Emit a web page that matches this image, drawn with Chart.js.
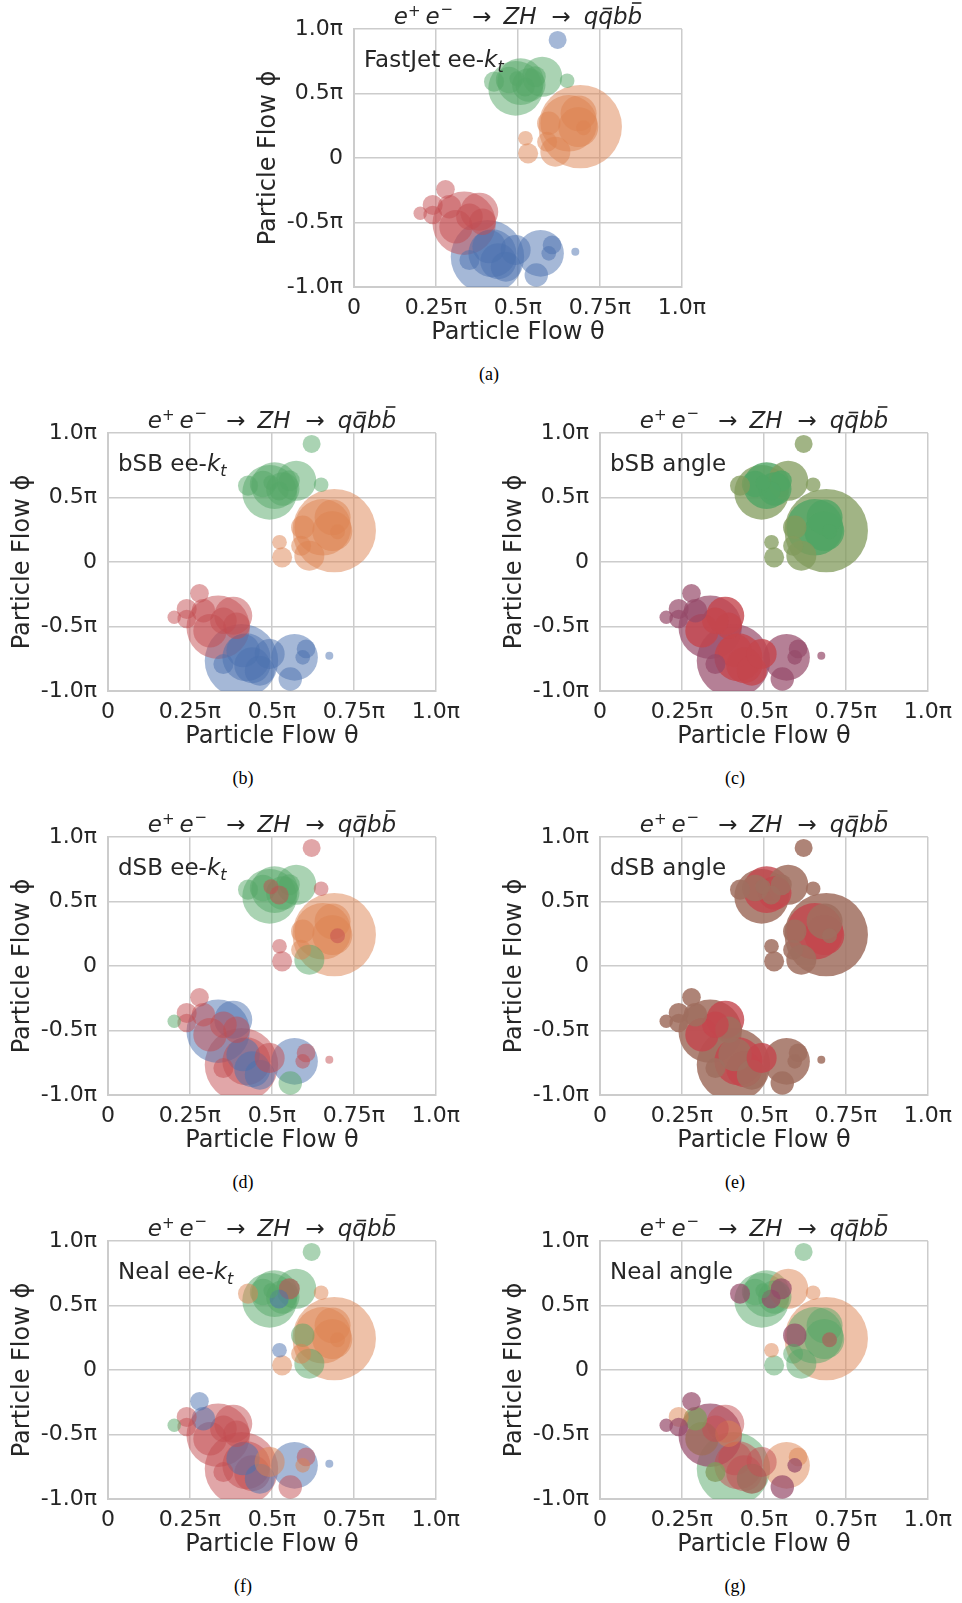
<!DOCTYPE html>
<html>
<head>
<meta charset="utf-8">
<script src="https://cdn.jsdelivr.net/npm/chart.js@4.4.1/dist/chart.umd.min.js"></script>
<style>
body { margin: 0; background: #fff; width: 962px; height: 1603px; position: relative; overflow: hidden; }
canvas { position: absolute; }
.cap { position: absolute; font-family: "Liberation Serif", "Times New Roman", serif; font-size: 18px; color: #000; transform: translate(-50%, -50%); }
</style>
</head>
<body>
<script>
// particle flow candidates: theta and phi in units of pi, energy in GeV
var theta = [0.621, 0.650, 0.427, 0.493, 0.574, 0.508, 0.533, 0.473, 0.497, 0.522, 0.553,
             0.690, 0.655, 0.684, 0.594, 0.523, 0.531, 0.614, 0.589, 0.685, 0.700,
             0.279, 0.202, 0.240, 0.240, 0.336, 0.291, 0.311, 0.382, 0.392, 0.352,
             0.407, 0.422, 0.463, 0.352, 0.493, 0.569, 0.604, 0.594, 0.556, 0.675, 0.412, 0.440];
var phi = [0.915, 0.599, 0.592, 0.540, 0.630, 0.592, 0.566, 0.605, 0.615, 0.550, 0.630,
           0.243, 0.269, 0.240, 0.269, 0.153, 0.036, 0.049, 0.126, 0.346, 0.235,
           -0.243, -0.429, -0.364, -0.442, -0.506, -0.378, -0.533, -0.416, -0.494, -0.455,
           -0.765, -0.739, -0.843, -0.791, -0.713, -0.739, -0.674, -0.739, -0.907, -0.726, -0.687, -0.800];
var energy = [6.6, 4.4, 8.2, 61.0, 32.7, 44.3, 22.8, 14.4, 4.6, 7.4, 9.0,
              142.0, 65.4, 32.7, 11.2, 4.4, 8.2, 18.4, 8.2, 26.4, 4.6,
              7.1, 3.7, 8.2, 7.1, 82.0, 11.2, 22.8, 29.5, 14.4, 14.4,
              110.0, 47.0, 18.4, 8.2, 18.4, 44.3, 7.1, 4.4, 11.2, 1.3, 22.8, 26.4];

// jet each particle ends up in, per algorithm
// B, O, G, R: jets; g, r: jets with full weight; Y, M, N: shared between jets; X: dropped
var jetsFastJet   = 'BGGGGGGGGGGOOOOOOOOOORRRRRRRRRRBBBBBBBBBBBB'.split('');
var jetsBsbKt     = 'GGGGGGGGGGGOOOOOOOOOORRRRRRRRRRBBBBBBBBBBBB'.split('');
var jetsBsbAngle  = 'YYYYYggggggYggYYYYYggMMMMMMrrrrMrrMrMMMMMrr'.split('');
var jetsDsbKt     = 'RRGGGGGGRRGOOOORRGOORRGRRBRRBRRRRBRRBRRGRBB'.split('');
var jetsDsbAngle  = 'NNNNNrrNNNNNrrNNNNNNNNNNNNNrrNrNrNNrNNNNNNr'.split('');
var jetsNealKt    = 'GOOGGGGGGBNOOOGBOGOOOBGRRRBRRRRRRBROBRORBBR'.split('');
var jetsNealAngle = 'GOMGOGGGGMMOGGMOGGGGNMMOMMYNRORGRNYROOMMXRR'.split('');

var panelNames = ['FastJet ee-', 'bSB ee-', 'bSB angle', 'dSB ee-', 'dSB angle', 'Neal ee-', 'Neal angle'];
var captions = ['(a)', '(b)', '(c)', '(d)', '(e)', '(f)', '(g)'];

var xTickVals = [0, 0.25, 0.5, 0.75, 1];
var xTickLabels = ['0', '0.25\u03c0', '0.5\u03c0', '0.75\u03c0', '1.0\u03c0'];
var yTickVals = [-1, -0.5, 0, 0.5, 1];
var yTickLabels = ['-1.0\u03c0', '-0.5\u03c0', '0', '0.5\u03c0', '1.0\u03c0'];

var colors = {
    B: 'rgba(76,114,176,0.5)',
    O: 'rgba(221,132,82,0.5)',
    G: 'rgba(85,168,104,0.5)',
    R: 'rgba(196,78,82,0.5)',
    g: 'rgba(80,165,100,0.8)',
    r: 'rgba(196,70,78,0.8)',
    Y: 'rgba(130,155,92,0.75)',
    M: 'rgba(149,74,105,0.7)',
    N: 'rgba(160,110,95,0.85)',
    X: 'rgba(0,0,0,0)'
};

var FONT = '"DejaVu Sans", sans-serif';
var INK = '#262626';

var titleRuns = [
    { t: 'e', it: 1, s: 23 },
    { t: '+', s: 15, dy: -8 },
    { t: 'e', it: 1, s: 23, gap: 5 },
    { t: '\u2212', s: 15, dy: -10, gap: 1 },
    { t: '\u2192', s: 23, gap: 19 },
    { t: 'ZH', it: 1, s: 23, gap: 12 },
    { t: '\u2192', s: 23, gap: 15 },
    { t: 'q', it: 1, s: 23, gap: 13 },
    { t: 'q', it: 1, s: 23, bar: 15.5 },
    { t: 'b', it: 1, s: 23 },
    { t: 'b', it: 1, s: 23, bar: 21 }
];

function runFont(r) {
    return (r.it ? 'italic ' : '') + r.s + 'px ' + FONT;
}

function drawRuns(ctx, runs, x, y, centered) {
    var total = 0;
    runs.forEach(function (r) {
        ctx.font = runFont(r);
        r.w = ctx.measureText(r.t).width;
        total += (r.gap || 0) + r.w;
    });
    var cx = centered ? x - total / 2 : x;
    runs.forEach(function (r) {
        cx += r.gap || 0;
        ctx.font = runFont(r);
        ctx.fillText(r.t, cx, y + (r.dy || 0));
        if (r.bar) {
            ctx.lineWidth = 1.6;
            ctx.beginPath();
            ctx.moveTo(cx + r.w * 0.3, y - r.bar);
            ctx.lineTo(cx + r.w * 0.95, y - r.bar);
            ctx.stroke();
        }
        cx += r.w;
    });
}

var textPlugin = {
    id: 'panelText',
    afterDraw: function (chart, args, opts) {
        var ctx = chart.ctx, a = chart.chartArea;
        ctx.save();
        ctx.fillStyle = INK;
        ctx.strokeStyle = INK;
        ctx.textAlign = 'left';
        ctx.textBaseline = 'alphabetic';
        drawRuns(ctx, titleRuns, (a.left + a.right) / 2, a.top - 5, true);
        drawRuns(ctx, opts.label, a.left + 10, a.top + 38, false);
        ctx.restore();
    }
};

// plot-area corners of each panel and caption centres
var panels = [
    { jets: jetsFastJet,   left: 354, top: 29,   cap: [489, 374] },
    { jets: jetsBsbKt,     left: 108, top: 433,  cap: [243, 778] },
    { jets: jetsBsbAngle,  left: 600, top: 433,  cap: [735, 778] },
    { jets: jetsDsbKt,     left: 108, top: 837,  cap: [243, 1182] },
    { jets: jetsDsbAngle,  left: 600, top: 837,  cap: [735, 1182] },
    { jets: jetsNealKt,    left: 108, top: 1241, cap: [243, 1586] },
    { jets: jetsNealAngle, left: 600, top: 1241, cap: [735, 1586] }
];

function axis(isX) {
    return {
        type: 'linear',
        min: isX ? 0 : -1,
        max: 1,
        afterBuildTicks: function (s) {
            s.ticks = (isX ? xTickVals : yTickVals).map(function (v) { return { value: v }; });
        },
        afterFit: function (s) {
            if (isX) s.height = 60; else s.width = 105;
        },
        ticks: {
            autoSkip: false,
            maxRotation: 0,
            padding: isX ? 8 : 11,
            color: INK,
            font: { family: FONT, size: 22 },
            callback: function (v, i) { return (isX ? xTickLabels : yTickLabels)[i]; }
        },
        grid: { color: '#cccccc', lineWidth: 1.5, drawTicks: false },
        border: { color: '#cccccc', width: 2 },
        title: {
            display: true,
            text: isX ? 'Particle Flow \u03b8' : 'Particle Flow \u03d5',
            color: INK,
            font: { family: FONT, size: 24 },
            padding: { top: isX ? 0 : 5, bottom: 0 }
        }
    };
}

var order = energy.map(function (e, i) { return i; }).sort(function (a, b) { return energy[b] - energy[a]; });

panels.forEach(function (p, k) {
    var canvas = document.createElement('canvas');
    canvas.width = 465;
    canvas.height = 352;
    canvas.style.width = '465px';
    canvas.style.height = '352px';
    canvas.style.left = (p.left - 105) + 'px';
    canvas.style.top = (p.top - 34) + 'px';
    document.body.appendChild(canvas);

    var name = panelNames[k];
    var label = [{ t: name, s: 23 }];
    if (name.slice(-1) === '-') {
        label.push({ t: 'k', it: 1, s: 23 });
        label.push({ t: 't', it: 1, s: 16, dy: 5 });
    }

    var pts = order.map(function (i) {
        return { x: theta[i], y: phi[i], r: 3.5 * Math.sqrt(energy[i]) };
    });
    var cols = order.map(function (i) { return colors[p.jets[i]]; });

    new Chart(canvas, {
        type: 'bubble',
        data: { datasets: [{ data: pts, backgroundColor: cols, borderWidth: 0, clip: 0 }] },
        options: {
            responsive: false,
            animation: false,
            events: [],
            layout: { autoPadding: false, padding: { top: 34, right: 30, left: 0, bottom: 0 } },
            plugins: {
                legend: { display: false },
                tooltip: { enabled: false },
                panelText: { label: label }
            },
            scales: { x: axis(true), y: axis(false) }
        },
        plugins: [textPlugin]
    });

    var cap = document.createElement('div');
    cap.className = 'cap';
    cap.textContent = captions[k];
    cap.style.left = p.cap[0] + 'px';
    cap.style.top = p.cap[1] + 'px';
    document.body.appendChild(cap);
});
</script>
</body>
</html>
